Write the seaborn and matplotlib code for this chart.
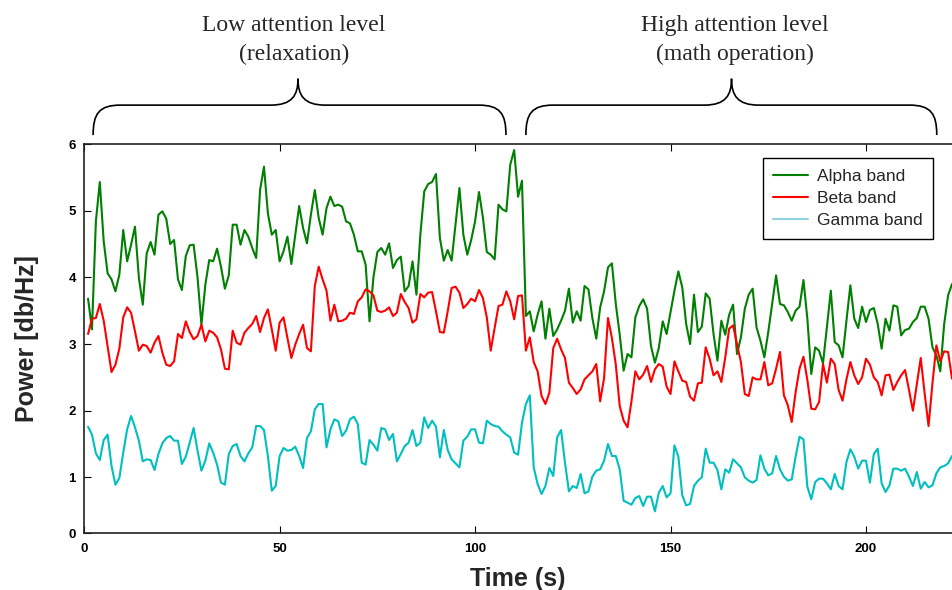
import matplotlib
matplotlib.use("Agg")
import pandas as pd
import matplotlib.pyplot as plt
import seaborn as sns
from matplotlib.path import Path
from matplotlib.patches import PathPatch
from matplotlib.transforms import blended_transform_factory

# one sample per second
time_s = list(range(1, 223))

alpha = [3.68, 3.22, 4.84, 5.43, 4.54, 4.06, 3.97, 3.79, 4.04, 4.71, 4.24, 4.49,
         4.76, 3.99, 3.59, 4.36, 4.53, 4.34, 4.94, 4.99, 4.88, 4.50, 4.56, 3.97,
         3.81, 4.32, 4.48, 4.49, 4.00, 3.29, 3.89, 4.26, 4.24, 4.43, 4.16, 3.83,
         4.03, 4.79, 4.79, 4.49, 4.71, 4.61, 4.44, 4.29, 5.31, 5.66, 4.96, 4.64,
         4.71, 4.24, 4.39, 4.61, 4.20, 4.64, 5.07, 4.74, 4.51, 4.94, 5.31, 4.89,
         4.64, 5.04, 5.21, 5.07, 5.09, 5.06, 4.84, 4.81, 4.64, 4.39, 4.39, 4.19,
         3.34, 4.00, 4.38, 4.44, 4.34, 4.51, 4.14, 4.26, 4.31, 3.79, 3.87, 4.24,
         3.74, 4.64, 5.29, 5.40, 5.43, 5.55, 4.59, 4.25, 4.41, 4.25, 4.79, 5.34,
         4.64, 4.34, 4.56, 4.84, 5.28, 4.90, 4.38, 4.34, 4.27, 5.09, 5.02, 4.99,
         5.69, 5.91, 5.21, 5.45, 3.42, 3.49, 3.19, 3.44, 3.64, 3.08, 3.53, 3.12,
         3.22, 3.35, 3.50, 3.83, 3.32, 3.49, 3.35, 3.87, 3.82, 3.39, 3.08, 3.55,
         3.79, 4.15, 4.21, 3.60, 3.14, 2.60, 2.85, 2.80, 3.40, 3.57, 3.67, 3.53,
         2.97, 2.72, 2.94, 3.34, 3.15, 3.48, 3.80, 4.09, 3.85, 3.30, 3.00, 3.74,
         3.18, 3.26, 3.76, 3.68, 3.15, 2.75, 3.35, 3.14, 3.44, 3.59, 2.85, 3.10,
         3.53, 3.74, 3.83, 3.25, 3.05, 2.80, 3.18, 3.60, 4.03, 3.60, 3.58, 3.48,
         3.35, 3.50, 3.56, 3.96, 3.38, 2.55, 2.95, 2.90, 2.71, 3.25, 3.80, 3.03,
         2.98, 2.80, 3.35, 3.88, 3.38, 3.24, 3.56, 3.33, 3.51, 3.54, 3.30, 2.93,
         3.38, 3.20, 3.58, 3.56, 3.13, 3.21, 3.23, 3.33, 3.39, 3.56, 3.56, 3.38,
         2.95, 2.83, 2.59, 3.30, 3.73, 3.90]

beta = [3.15, 3.38, 3.39, 3.60, 3.35, 2.97, 2.58, 2.69, 2.93, 3.40, 3.55, 3.47,
        3.19, 2.90, 2.99, 2.97, 2.87, 3.02, 3.12, 2.87, 2.69, 2.67, 2.74, 3.15,
        3.09, 3.34, 3.18, 3.07, 3.12, 3.29, 3.04, 3.20, 3.17, 3.10, 2.92, 2.63,
        2.62, 3.20, 3.02, 2.99, 3.17, 3.24, 3.30, 3.42, 3.18, 3.39, 3.52, 3.22,
        2.90, 3.32, 3.40, 3.09, 2.79, 2.99, 3.15, 3.29, 2.94, 2.89, 3.87, 4.16,
        3.97, 3.80, 3.35, 3.59, 3.34, 3.35, 3.38, 3.47, 3.45, 3.64, 3.70, 3.82,
        3.79, 3.73, 3.50, 3.48, 3.50, 3.55, 3.42, 3.47, 3.75, 3.63, 3.54, 3.32,
        3.37, 3.75, 3.70, 3.77, 3.78, 3.49, 3.18, 3.17, 3.49, 3.84, 3.86, 3.77,
        3.54, 3.60, 3.68, 3.64, 3.81, 3.69, 3.40, 2.90, 3.24, 3.57, 3.59, 3.79,
        3.64, 3.37, 3.72, 3.73, 2.90, 3.10, 2.73, 2.59, 2.22, 2.10, 2.27, 2.94,
        3.08, 2.92, 2.79, 2.42, 2.34, 2.25, 2.32, 2.47, 2.53, 2.59, 2.70, 2.14,
        2.49, 3.39, 3.09, 2.69, 2.07, 1.85, 1.75, 2.14, 2.59, 2.47, 2.54, 2.67,
        2.43, 2.62, 2.70, 2.66, 2.36, 2.25, 2.74, 2.59, 2.45, 2.43, 2.21, 2.15,
        2.41, 2.42, 2.95, 2.78, 2.53, 2.59, 2.43, 2.80, 3.23, 3.28, 3.00, 2.73,
        2.25, 2.22, 2.50, 2.47, 2.47, 2.73, 2.38, 2.41, 2.63, 2.88, 2.23, 2.08,
        1.83, 2.28, 2.63, 2.81, 2.46, 2.03, 2.02, 2.13, 2.70, 2.42, 2.78, 2.70,
        2.31, 2.15, 2.47, 2.73, 2.53, 2.40, 2.50, 2.78, 2.69, 2.50, 2.43, 2.23,
        2.53, 2.54, 2.31, 2.43, 2.53, 2.61, 2.31, 2.00, 2.40, 2.79, 2.26, 1.77,
        2.41, 2.98, 2.74, 2.89, 2.88, 2.48]

gamma = [1.76, 1.64, 1.36, 1.26, 1.56, 1.64, 1.17, 0.89, 0.99, 1.37, 1.72, 1.92,
         1.75, 1.55, 1.24, 1.27, 1.26, 1.11, 1.35, 1.51, 1.59, 1.62, 1.55, 1.55,
         1.20, 1.31, 1.52, 1.74, 1.40, 1.10, 1.25, 1.51, 1.37, 1.19, 0.92, 0.89,
         1.35, 1.47, 1.50, 1.32, 1.24, 1.36, 1.45, 1.77, 1.77, 1.71, 1.32, 0.80,
         0.87, 1.32, 1.44, 1.40, 1.41, 1.46, 1.32, 1.14, 1.59, 1.69, 2.02, 2.10,
         2.10, 1.45, 1.72, 1.87, 1.84, 1.62, 1.70, 1.87, 1.91, 1.80, 1.22, 1.19,
         1.56, 1.49, 1.40, 1.74, 1.72, 1.56, 1.65, 1.24, 1.35, 1.47, 1.52, 1.71,
         1.47, 1.52, 1.90, 1.74, 1.85, 1.76, 1.30, 1.71, 1.41, 1.27, 1.21, 1.15,
         1.55, 1.61, 1.72, 1.72, 1.52, 1.51, 1.85, 1.80, 1.77, 1.76, 1.69, 1.64,
         1.60, 1.37, 1.34, 1.82, 2.10, 2.23, 1.15, 0.90, 0.75, 0.87, 1.14, 1.02,
         1.60, 1.71, 1.22, 0.79, 0.87, 0.84, 1.05, 0.76, 0.79, 1.01, 1.10, 1.12,
         1.25, 1.50, 1.32, 1.32, 1.12, 0.65, 0.62, 0.59, 0.69, 0.72, 0.57, 0.71,
         0.71, 0.49, 0.77, 0.87, 0.70, 0.76, 1.48, 1.31, 0.73, 0.58, 0.60, 0.87,
         0.95, 1.00, 1.43, 1.22, 1.22, 1.11, 0.82, 1.12, 1.07, 1.27, 1.21, 1.15,
         1.00, 0.95, 0.92, 0.96, 1.33, 1.13, 1.03, 1.06, 1.32, 1.12, 1.01, 0.95,
         0.97, 1.31, 1.61, 1.57, 0.86, 0.67, 0.93, 0.98, 0.98, 0.91, 0.82, 1.05,
         0.87, 0.82, 1.23, 1.42, 1.31, 1.13, 1.25, 1.25, 0.92, 1.35, 1.43, 0.91,
         0.78, 0.88, 1.13, 1.13, 1.10, 1.13, 1.01, 0.87, 1.08, 0.83, 0.93, 0.85,
         0.88, 1.06, 1.15, 1.17, 1.21, 1.32]

band_names = ["Alpha band", "Beta band", "Gamma band"]
band_colors = ["#008000", "#ff0000", "#00bfbf"]

df = pd.DataFrame({
    "Time": time_s * 3,
    "Power": alpha + beta + gamma,
    "Band": [b for b in band_names for _ in time_s],
})

sns.set_style("ticks")
plt.rcParams["font.family"] = ["Liberation Sans", "DejaVu Sans"]

fig = plt.figure(figsize=(9.52, 5.9), dpi=100)
ax = fig.add_axes([0.0884, 0.0966, 0.9116, 0.6593])

sns.lineplot(data=df, x="Time", y="Power", hue="Band",
             palette=dict(zip(band_names, band_colors)),
             estimator=None, linewidth=1.5, ax=ax)

# axis limits / ticks (bottom of the axis is labelled 0 like the original)
ax.set_xlim(0, 222)
ax.set_ylim(0.165, 6)
ax.set_xticks([0, 50, 100, 150, 200])
ax.set_yticks([0.165, 1, 2, 3, 4, 5, 6])
ax.set_yticklabels(["0", "1", "2", "3", "4", "5", "6"])
ax.tick_params(direction="in", top=True, right=False, length=5, width=0.8,
               labelsize=9.5, colors="black")
ax.tick_params(axis="x", pad=7)
ax.tick_params(axis="y", pad=6)
for lbl in ax.get_xticklabels() + ax.get_yticklabels():
    lbl.set_fontweight("bold")

ax.set_xlabel("Time (s)", fontsize=18, fontweight="bold", labelpad=9)
ax.set_ylabel("Power [db/Hz]", fontsize=18, fontweight="bold", labelpad=21)

ax.spines["right"].set_visible(False)
for s in ["left", "bottom", "top"]:
    ax.spines[s].set_linewidth(1.2)
    ax.spines[s].set_color("#222222")

sns.move_legend(ax, "upper right", bbox_to_anchor=(0.978, 0.964), title=None,
                fontsize=12.5, frameon=True, fancybox=False, edgecolor="black",
                framealpha=1, borderaxespad=0, labelspacing=0.42,
                handlelength=2.0, handletextpad=0.5, borderpad=0.6)
leg = ax.get_legend()
leg.get_frame().set_linewidth(1.0)
leg.get_lines()[2].set_color("#8fd3e0")


# curly braces above the two phases
trans = blended_transform_factory(ax.transData, ax.transAxes)


def brace(x0, x1, xt):
    ylo, ymid, ytip = 1.023, 1.100, 1.168
    d = 7
    verts = [(x0, ylo), (x0, 1.078), (x0 + 1.5, ymid), (x0 + d, ymid),
             (xt - d, ymid),
             (xt - 1.5, ymid), (xt, 1.125), (xt, ytip),
             (xt, 1.125), (xt + 1.5, ymid), (xt + d, ymid),
             (x1 - d, ymid),
             (x1 - 1.5, ymid), (x1, 1.078), (x1, ylo)]
    codes = [Path.MOVETO, Path.CURVE4, Path.CURVE4, Path.CURVE4,
             Path.LINETO,
             Path.CURVE4, Path.CURVE4, Path.CURVE4,
             Path.CURVE4, Path.CURVE4, Path.CURVE4,
             Path.LINETO,
             Path.CURVE4, Path.CURVE4, Path.CURVE4]
    ax.add_patch(PathPatch(Path(verts, codes), transform=trans, fill=False,
                           lw=1.2, color="black", clip_on=False))


brace(2.3, 107.9, 54.7)
brace(113.0, 218.1, 165.6)

ax.text(53.7, 1.267, "Low attention level\n(relaxation)", transform=trans,
        ha="center", va="center", fontsize=17, family="Liberation Serif",
        linespacing=1.45)
ax.text(166.4, 1.267, "High attention level\n(math operation)", transform=trans,
        ha="center", va="center", fontsize=17, family="Liberation Serif",
        linespacing=1.45)

fig.savefig("out.png", dpi=100)
